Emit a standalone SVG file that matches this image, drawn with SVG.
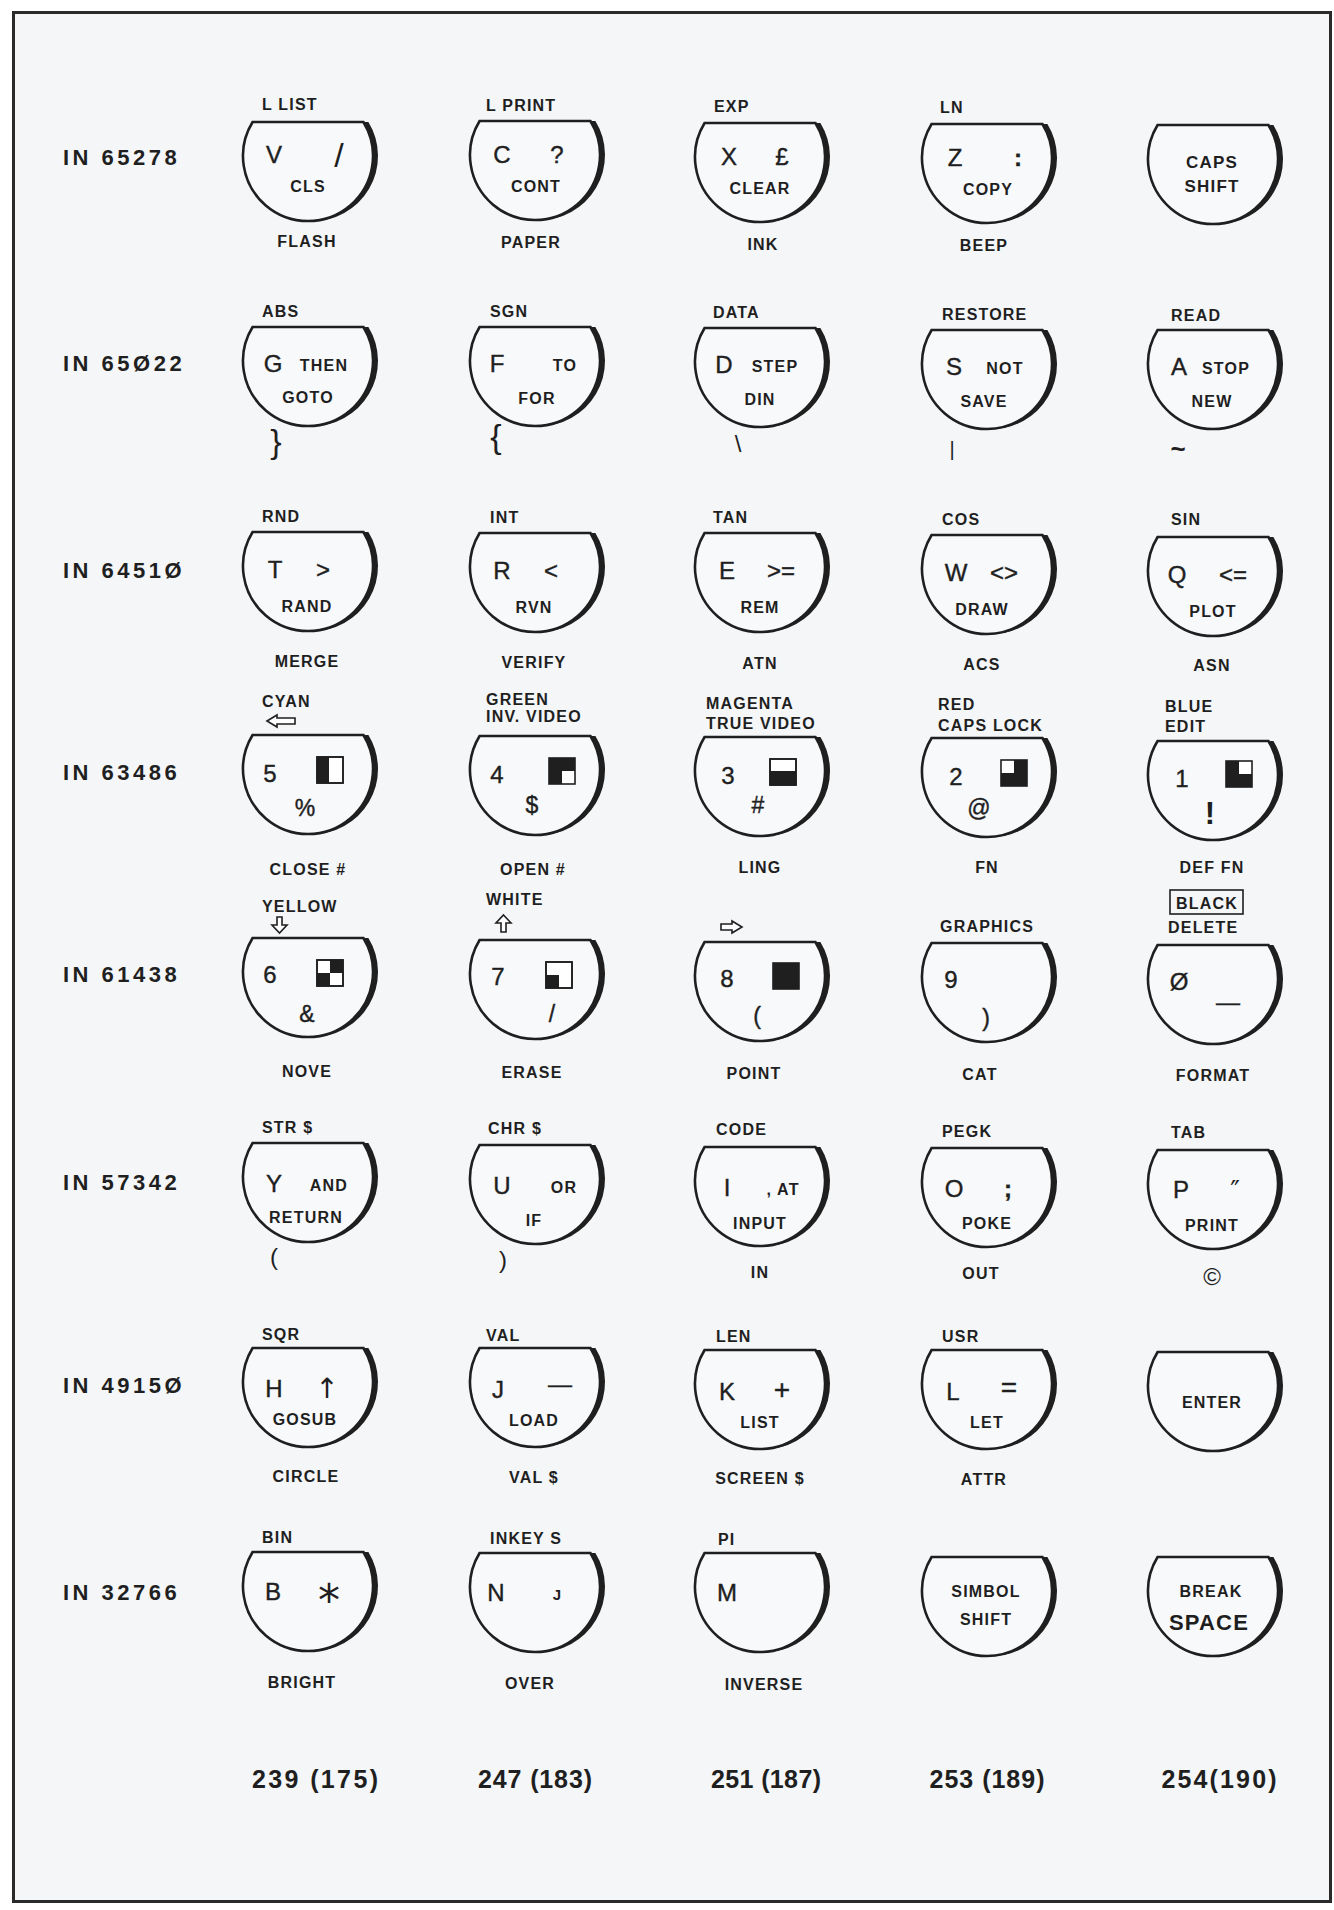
<svg xmlns="http://www.w3.org/2000/svg" xmlns:xlink="http://www.w3.org/1999/xlink" width="1334" height="1910" viewBox="0 0 1334 1910">
<style>
.t{font-family:"Liberation Sans",Arial,Helvetica,sans-serif;fill:#1f1f1f}
.s{font-size:16px;font-weight:bold;letter-spacing:1.2px}
.m{font-size:24px;text-anchor:middle;stroke:#1f1f1f;stroke-width:0.4px}
.c{text-anchor:middle}
.in{font-size:22px;font-weight:bold;letter-spacing:3.5px}
.n{font-size:25px;font-weight:bold;text-anchor:middle}
.sym{font-family:"DejaVu Sans","Liberation Sans",sans-serif;fill:#1f1f1f;text-anchor:middle}
.cap{fill:#f8f9fb;stroke:#1f1f1f;stroke-width:2.6}
.sh{fill:#1f1f1f}
.arr{fill:#fff;stroke:#1f1f1f;stroke-width:1.6}
.bx{fill:#fff;stroke:#1f1f1f;stroke-width:1.6}
.ol{fill:none;stroke:#1f1f1f;stroke-width:1.6}
.k{fill:#1f1f1f}
</style>
<defs>
<g id="cap"><path class="cap" d="M-55.4 0H55.4A65 65 0 1 1 -55.4 0Z"/><path class="sh" d="M55.4 0A65 65 0 0 1 2.5 98.95A65 65 0 0 0 60.4 0Z"/></g>
</defs>
<rect x="0" y="0" width="1334" height="1910" fill="#ffffff"/>
<rect x="13.5" y="12.5" width="1317" height="1889" fill="#f4f6f8" stroke="#2a2a2a" stroke-width="3"/>

<g id="row-labels">
<text class="t in" x="63" y="165">IN 65278</text>
<text class="t in" x="63" y="371">IN 65Ø22</text>
<text class="t in" x="63" y="578">IN 6451Ø</text>
<text class="t in" x="63" y="780">IN 63486</text>
<text class="t in" x="63" y="982">IN 61438</text>
<text class="t in" x="63" y="1190">IN 57342</text>
<text class="t in" x="63" y="1393">IN 4915Ø</text>
<text class="t in" x="63" y="1600">IN 32766</text>
</g>

<g id="connectors"></g>

<!-- Row 1 -->
<g id="key-V"><use xlink:href="#cap" href="#cap" transform="translate(308,122)"/>
<text class="t s" x="262" y="110">L LIST</text>
<text class="t m" x="274" y="163">V</text>
<text class="t c" x="339" y="167" style="font-size:34px">/</text>
<text class="t s c" x="308" y="192">CLS</text>
<text class="t s c" x="307" y="247">FLASH</text></g>

<g id="key-C"><use xlink:href="#cap" href="#cap" transform="translate(535,121)"/>
<text class="t s" x="486" y="111">L PRINT</text>
<text class="t m" x="502" y="163">C</text>
<text class="t m" x="557" y="163">?</text>
<text class="t s c" x="536" y="192">CONT</text>
<text class="t s c" x="531" y="248">PAPER</text></g>

<g id="key-X"><use xlink:href="#cap" href="#cap" transform="translate(760,123)"/>
<text class="t s" x="714" y="112">EXP</text>
<text class="t m" x="729" y="165">X</text>
<text class="t m" x="782" y="165">£</text>
<text class="t s c" x="760" y="194">CLEAR</text>
<text class="t s c" x="763" y="250">INK</text></g>

<g id="key-Z"><use xlink:href="#cap" href="#cap" transform="translate(987,124)"/>
<text class="t s" x="940" y="113">LN</text>
<text class="t m" x="955" y="166">Z</text>
<text class="t m" x="1018" y="166" style="font-weight:bold">:</text>
<text class="t s c" x="988" y="195">COPY</text>
<text class="t s c" x="984" y="251">BEEP</text></g>

<g id="key-CAPS"><use xlink:href="#cap" href="#cap" transform="translate(1213,125)"/>
<text class="t s c" x="1212" y="168" style="font-size:17px">CAPS</text>
<text class="t s c" x="1212" y="192" style="font-size:17px">SHIFT</text></g>

<!-- Row 2 -->
<g id="key-G"><use xlink:href="#cap" href="#cap" transform="translate(308,327)"/>
<text class="t s" x="262" y="317">ABS</text>
<text class="t m" x="273" y="372">G</text>
<text class="t s c" x="324" y="371">THEN</text>
<text class="t s c" x="308" y="403">GOTO</text>
<text class="t c" x="276" y="453" style="font-size:34px">}</text></g>

<g id="key-F"><use xlink:href="#cap" href="#cap" transform="translate(535,327)"/>
<text class="t s" x="490" y="317">SGN</text>
<text class="t m" x="497" y="372">F</text>
<text class="t s c" x="565" y="371">TO</text>
<text class="t s c" x="537" y="404">FOR</text>
<text class="t c" x="496" y="448" style="font-size:34px">{</text></g>

<g id="key-D"><use xlink:href="#cap" href="#cap" transform="translate(760,328)"/>
<text class="t s" x="713" y="318">DATA</text>
<text class="t m" x="724" y="373">D</text>
<text class="t s c" x="775" y="372">STEP</text>
<text class="t s c" x="760" y="405">DIN</text>
<text class="t c" x="738" y="452" style="font-size:24px">\</text></g>

<g id="key-S"><use xlink:href="#cap" href="#cap" transform="translate(987,330)"/>
<text class="t s" x="942" y="320">RESTORE</text>
<text class="t m" x="954" y="375">S</text>
<text class="t s c" x="1005" y="374">NOT</text>
<text class="t s c" x="984" y="407">SAVE</text>
<text class="t c" x="952" y="456" style="font-size:20px">|</text></g>

<g id="key-A"><use xlink:href="#cap" href="#cap" transform="translate(1213,330)"/>
<text class="t s" x="1171" y="321">READ</text>
<text class="t m" x="1179" y="375">A</text>
<text class="t s c" x="1226" y="374">STOP</text>
<text class="t s c" x="1212" y="407">NEW</text>
<text class="t c" x="1178" y="458" style="font-size:26px;font-weight:bold">~</text></g>

<!-- Row 3 -->
<g id="key-T"><use xlink:href="#cap" href="#cap" transform="translate(308,532)"/>
<text class="t s" x="262" y="522">RND</text>
<text class="t m" x="275" y="578">T</text>
<text class="t m" x="323" y="578">&gt;</text>
<text class="t s c" x="307" y="612">RAND</text>
<text class="t s c" x="307" y="667">MERGE</text></g>

<g id="key-R"><use xlink:href="#cap" href="#cap" transform="translate(535,533)"/>
<text class="t s" x="490" y="523">INT</text>
<text class="t m" x="502" y="579">R</text>
<text class="t m" x="551" y="579">&lt;</text>
<text class="t s c" x="534" y="613">RVN</text>
<text class="t s c" x="534" y="668">VERIFY</text></g>

<g id="key-E"><use xlink:href="#cap" href="#cap" transform="translate(760,533)"/>
<text class="t s" x="713" y="523">TAN</text>
<text class="t m" x="727" y="579">E</text>
<text class="t m" x="781" y="579">&gt;=</text>
<text class="t s c" x="760" y="613">REM</text>
<text class="t s c" x="760" y="669">ATN</text></g>

<g id="key-W"><use xlink:href="#cap" href="#cap" transform="translate(987,535)"/>
<text class="t s" x="942" y="525">COS</text>
<text class="t m" x="956" y="581">W</text>
<text class="t m" x="1004" y="581">&lt;&gt;</text>
<text class="t s c" x="982" y="615">DRAW</text>
<text class="t s c" x="982" y="670">ACS</text></g>

<g id="key-Q"><use xlink:href="#cap" href="#cap" transform="translate(1213,537)"/>
<text class="t s" x="1171" y="525">SIN</text>
<text class="t m" x="1177" y="583">Q</text>
<text class="t m" x="1233" y="583">&lt;=</text>
<text class="t s c" x="1213" y="617">PLOT</text>
<text class="t s c" x="1212" y="671">ASN</text></g>

<!-- Row 4 -->
<g id="key-5"><use xlink:href="#cap" href="#cap" transform="translate(308,735)"/>
<text class="t s" x="262" y="707">CYAN</text>
<polygon class="arr" points="267,721 277,715 277,718 295,718 295,724 277,724 277,727"/>
<text class="t m" x="270" y="782">5</text>
<rect class="bx" x="317" y="757" width="26" height="26"/><rect class="k" x="317" y="757" width="12" height="26"/><rect class="ol" x="317" y="757" width="26" height="26"/>
<text class="t m" x="305" y="816" style="font-size:23px">%</text>
<text class="t s c" x="308" y="875">CLOSE #</text></g>

<g id="key-4"><use xlink:href="#cap" href="#cap" transform="translate(535,736)"/>
<text class="t s" x="486" y="705">GREEN</text>
<text class="t s" x="486" y="722">INV. VIDEO</text>
<text class="t m" x="497" y="783">4</text>
<rect class="k" x="549" y="758" width="26" height="26"/><rect fill="#fff" x="562" y="771" width="13" height="13"/><rect class="ol" x="549" y="758" width="26" height="26"/>
<text class="t m" x="532" y="813" style="font-size:23px">$</text>
<text class="t s c" x="533" y="875">OPEN #</text></g>

<g id="key-3"><use xlink:href="#cap" href="#cap" transform="translate(760,737)"/>
<text class="t s" x="706" y="709">MAGENTA</text>
<text class="t s" x="706" y="729">TRUE VIDEO</text>
<text class="t m" x="728" y="784">3</text>
<rect class="bx" x="770" y="759" width="26" height="26"/><rect class="k" x="770" y="771" width="26" height="14"/><rect class="ol" x="770" y="759" width="26" height="26"/>
<text class="t m" x="758" y="813" style="font-size:23px">#</text>
<text class="t s c" x="760" y="873">LING</text></g>

<g id="key-2"><use xlink:href="#cap" href="#cap" transform="translate(987,738)"/>
<text class="t s" x="938" y="710">RED</text>
<text class="t s" x="938" y="731">CAPS LOCK</text>
<text class="t m" x="956" y="785">2</text>
<rect class="k" x="1001" y="760" width="26" height="26"/><rect fill="#fff" x="1001" y="760" width="13" height="13"/><rect class="ol" x="1001" y="760" width="26" height="26"/>
<text class="t m" x="979" y="816" style="font-size:23px">@</text>
<text class="t s c" x="987" y="873">FN</text></g>

<g id="key-1"><use xlink:href="#cap" href="#cap" transform="translate(1213,741)"/>
<text class="t s" x="1165" y="712">BLUE</text>
<text class="t s" x="1165" y="732">EDIT</text>
<text class="t m" x="1182" y="787">1</text>
<rect class="k" x="1226" y="761" width="26" height="26"/><rect fill="#fff" x="1239" y="761" width="13" height="13"/><rect class="ol" x="1226" y="761" width="26" height="26"/>
<text class="t c" x="1210" y="824" style="font-size:31px;font-weight:bold">!</text>
<text class="t s c" x="1212" y="873">DEF FN</text></g>

<!-- Row 5 -->
<g id="key-6"><use xlink:href="#cap" href="#cap" transform="translate(308,938)"/>
<text class="t s" x="262" y="912">YELLOW</text>
<polygon class="arr" points="277,917 282,917 282,925 287,925 279.5,933 272,925 277,925"/>
<text class="t m" x="270" y="983">6</text>
<rect class="bx" x="317" y="960" width="26" height="26"/><rect class="k" x="330" y="960" width="13" height="13"/><rect class="k" x="317" y="973" width="13" height="13"/><rect class="ol" x="317" y="960" width="26" height="26"/>
<text class="t m" x="307" y="1022" style="font-size:23px">&amp;</text>
<text class="t s c" x="307" y="1077">NOVE</text></g>

<g id="key-7"><use xlink:href="#cap" href="#cap" transform="translate(535,940)"/>
<text class="t s" x="486" y="905">WHITE</text>
<polygon class="arr" points="503.5,915 511,923 506,923 506,932 501,932 501,923 496,923"/>
<text class="t m" x="498" y="985">7</text>
<rect class="bx" x="546" y="962" width="26" height="26"/><rect class="k" x="546" y="975" width="13" height="13"/><rect class="ol" x="546" y="962" width="26" height="26"/>
<text class="t m" x="552" y="1022" style="font-size:23px">/</text>
<text class="t s c" x="532" y="1078">ERASE</text></g>

<g id="key-8"><use xlink:href="#cap" href="#cap" transform="translate(760,942)"/>
<polygon class="arr" points="721,924 732,924 732,921 742,927 732,933 732,930 721,930"/>
<text class="t m" x="727" y="987">8</text>
<rect class="k" x="773" y="963" width="26" height="26"/><rect class="ol" x="773" y="963" width="26" height="26"/>
<text class="t m" x="757" y="1024" style="font-size:23px">(</text>
<text class="t s c" x="754" y="1079">POINT</text></g>

<g id="key-9"><use xlink:href="#cap" href="#cap" transform="translate(987,943)"/>
<text class="t s" x="940" y="932">GRAPHICS</text>
<text class="t m" x="951" y="988">9</text>
<text class="t m" x="986" y="1026" style="font-size:23px">)</text>
<text class="t s c" x="980" y="1080">CAT</text></g>

<g id="key-0"><use xlink:href="#cap" href="#cap" transform="translate(1213,945)"/>
<rect class="ol" x="1170" y="890" width="73" height="24"/>
<text class="t s c" x="1207" y="909">BLACK</text>
<text class="t s" x="1168" y="933">DELETE</text>
<text class="t m" x="1179" y="990">Ø</text>
<text class="t m" x="1228" y="1010">—</text>
<text class="t s c" x="1213" y="1081">FORMAT</text></g>

<!-- Row 6 -->
<g id="key-Y"><use xlink:href="#cap" href="#cap" transform="translate(308,1143)"/>
<text class="t s" x="262" y="1133">STR $</text>
<text class="t m" x="274" y="1192">Y</text>
<text class="t s c" x="329" y="1191">AND</text>
<text class="t s c" x="306" y="1223">RETURN</text>
<text class="t c" x="274" y="1265" style="font-size:24px">(</text></g>

<g id="key-U"><use xlink:href="#cap" href="#cap" transform="translate(535,1145)"/>
<text class="t s" x="488" y="1134">CHR $</text>
<text class="t m" x="502" y="1194">U</text>
<text class="t s c" x="564" y="1193">OR</text>
<text class="t s c" x="534" y="1226">IF</text>
<text class="t c" x="503" y="1268" style="font-size:24px">)</text></g>

<g id="key-I"><use xlink:href="#cap" href="#cap" transform="translate(760,1147)"/>
<text class="t s" x="716" y="1135">CODE</text>
<text class="t m" x="727" y="1196">I</text>
<text class="t s c" x="783" y="1195">, AT</text>
<text class="t s c" x="760" y="1229">INPUT</text>
<text class="t s c" x="760" y="1278">IN</text></g>

<g id="key-O"><use xlink:href="#cap" href="#cap" transform="translate(987,1148)"/>
<text class="t s" x="942" y="1137">PEGK</text>
<text class="t m" x="954" y="1197">O</text>
<text class="t m" x="1008" y="1197" style="font-weight:bold">;</text>
<text class="t s c" x="987" y="1229">POKE</text>
<text class="t s c" x="981" y="1279">OUT</text></g>

<g id="key-P"><use xlink:href="#cap" href="#cap" transform="translate(1213,1150)"/>
<text class="t s" x="1171" y="1138">TAB</text>
<text class="t m" x="1181" y="1198">P</text>
<text class="sym" x="1235" y="1200" style="font-size:26px">″</text>
<text class="t s c" x="1212" y="1231">PRINT</text>
<text class="t c" x="1212" y="1285" style="font-size:24px">©</text></g>

<!-- Row 7 -->
<g id="key-H"><use xlink:href="#cap" href="#cap" transform="translate(308,1348)"/>
<text class="t s" x="262" y="1340">SQR</text>
<text class="t m" x="274" y="1397">H</text>
<text class="sym" x="327" y="1398" style="font-size:28px">↑</text>
<text class="t s c" x="305" y="1425">GOSUB</text>
<text class="t s c" x="306" y="1482">CIRCLE</text></g>

<g id="key-J"><use xlink:href="#cap" href="#cap" transform="translate(535,1348)"/>
<text class="t s" x="486" y="1341">VAL</text>
<text class="t m" x="498" y="1398">J</text>
<text class="t m" x="560" y="1392">—</text>
<text class="t s c" x="534" y="1426">LOAD</text>
<text class="t s c" x="534" y="1483">VAL $</text></g>

<g id="key-K"><use xlink:href="#cap" href="#cap" transform="translate(760,1350)"/>
<text class="t s" x="716" y="1342">LEN</text>
<text class="t m" x="727" y="1400">K</text>
<text class="t m" x="782" y="1399" style="font-size:28px">+</text>
<text class="t s c" x="760" y="1428">LIST</text>
<text class="t s c" x="760" y="1484">SCREEN $</text></g>

<g id="key-L"><use xlink:href="#cap" href="#cap" transform="translate(987,1350)"/>
<text class="t s" x="942" y="1342">USR</text>
<text class="t m" x="953" y="1400">L</text>
<text class="t m" x="1009" y="1397" style="font-size:28px">=</text>
<text class="t s c" x="987" y="1428">LET</text>
<text class="t s c" x="984" y="1485">ATTR</text></g>

<g id="key-ENTER"><use xlink:href="#cap" href="#cap" transform="translate(1213,1352)"/>
<text class="t s c" x="1212" y="1408">ENTER</text></g>

<!-- Row 8 -->
<g id="key-B"><use xlink:href="#cap" href="#cap" transform="translate(308,1552)"/>
<text class="t s" x="262" y="1543">BIN</text>
<text class="t m" x="273" y="1600">B</text>
<text class="sym" x="329" y="1616" style="font-size:44px">*</text>
<text class="t s c" x="302" y="1688">BRIGHT</text></g>

<g id="key-N"><use xlink:href="#cap" href="#cap" transform="translate(535,1553)"/>
<text class="t s" x="490" y="1544">INKEY S</text>
<text class="t m" x="496" y="1601">N</text>
<text class="t c" x="557" y="1600" style="font-size:15px;font-weight:bold">J</text>
<text class="t s c" x="530" y="1689">OVER</text></g>

<g id="key-M"><use xlink:href="#cap" href="#cap" transform="translate(760,1553)"/>
<text class="t s" x="718" y="1545">PI</text>
<text class="t m" x="727" y="1601">M</text>
<text class="t s c" x="764" y="1690">INVERSE</text></g>

<g id="key-SIMBOL"><use xlink:href="#cap" href="#cap" transform="translate(987,1557)"/>
<text class="t s c" x="986" y="1597">SIMBOL</text>
<text class="t s c" x="986" y="1625">SHIFT</text></g>

<g id="key-BREAK"><use xlink:href="#cap" href="#cap" transform="translate(1213,1557)"/>
<text class="t s c" x="1211" y="1597">BREAK</text>
<text class="t s c" x="1209" y="1630" style="font-size:22px">SPACE</text></g>

<g id="column-values">
<text class="t n" x="315" y="1788" textLength="126" lengthAdjust="spacing">239 (175)</text>
<text class="t n" x="535" y="1788" textLength="114" lengthAdjust="spacing">247 (183)</text>
<text class="t n" x="766" y="1788" textLength="110" lengthAdjust="spacing">251 (187)</text>
<text class="t n" x="987" y="1788" textLength="115" lengthAdjust="spacing">253 (189)</text>
<text class="t n" x="1219" y="1788" textLength="115" lengthAdjust="spacing">254(190)</text>
</g>
</svg>
